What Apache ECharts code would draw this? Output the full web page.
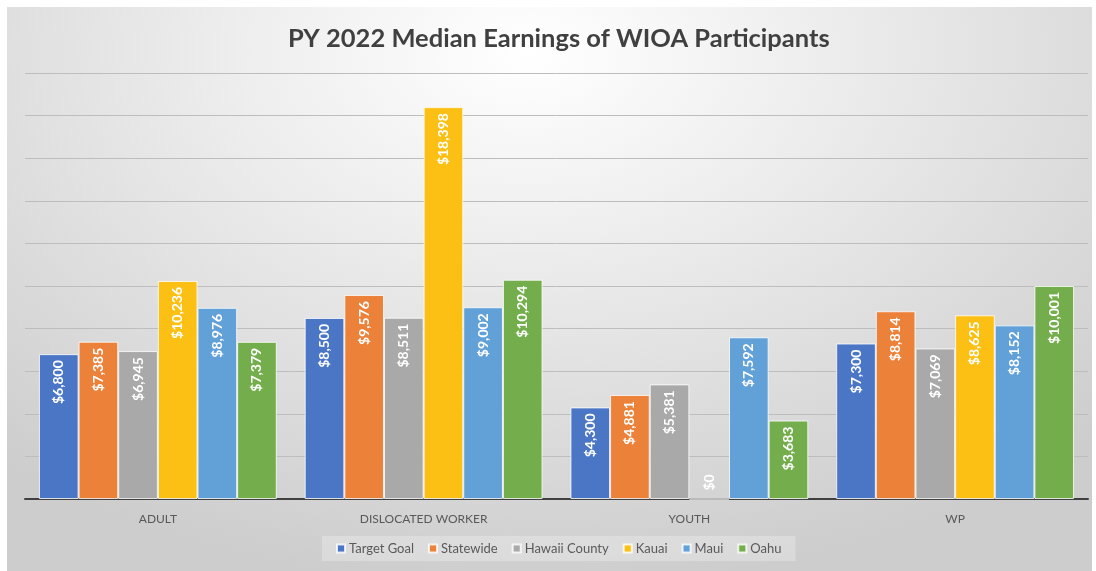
<!DOCTYPE html>
<html>
<head>
<meta charset="utf-8">
<script src="https://cdn.jsdelivr.net/npm/echarts@6/dist/echarts.min.js"></script>
<style>
html,body{margin:0;padding:0;background:#ffffff;}
#bg{position:absolute;left:7px;top:7px;width:1085px;height:564px;
background:radial-gradient(ellipse 75% 95% at 48% 8%, #ffffff 0%, #eeeeee 35%, #dcdcdc 70%, #cdcdcd 100%);}
#chart{position:absolute;left:0;top:0;width:1096px;height:571px;}
</style>
</head>
<body>
<div id="bg"></div>
<div id="chart"></div>
<script>
const categories = ['ADULT', 'DISLOCATED WORKER', 'YOUTH', 'WP'];
const seriesNames = ['Target Goal', 'Statewide', 'Hawaii County', 'Kauai', 'Maui', 'Oahu'];
const targetGoal   = [6800, 8500, 4300, 7300];
const statewide    = [7385, 9576, 4881, 8814];
const hawaiiCounty = [6945, 8511, 5381, 7069];
const kauai        = [10236, 18398, 0, 8625];
const maui         = [8976, 9002, 7592, 8152];
const oahu         = [7379, 10294, 3683, 10001];
const colors = ['#4a76c5', '#ec8139', '#a9a9a9', '#fcc014', '#62a0d8', '#74ae4c'];
const allValues = [targetGoal, statewide, hawaiiCounty, kauai, maui, oahu];

const fmt = v => '$' + Number(v).toLocaleString('en-US');

const chart = echarts.init(document.getElementById('chart'), null, {renderer: 'canvas'});
const series = allValues.map((vals, i) => ({
  name: seriesNames[i],
  type: 'bar',
  barGap: '0%',
  barCategoryGap: '10.5%',
  itemStyle: {color: colors[i], borderColor: 'rgba(255,255,255,0.8)', borderWidth: 1},
  label: {
    show: true,
    position: 'insideTop',
    rotate: 90,
    align: 'right',
    verticalAlign: 'middle',
    distance: 6,
    color: '#ffffff',
    fontFamily: 'Lato',
    fontWeight: 'bold',
    fontSize: 14,
    formatter: p => fmt(p.value)
  },
  data: vals.map(v => v === 0 ? {value: v, label: {position: 'insideBottom', align: 'left', distance: 9}} : v)
}));

chart.setOption({
  backgroundColor: 'transparent',
  animation: false,
  color: colors,
  title: {
    text: 'PY 2022 Median Earnings of WIOA Participants',
    left: 283,
    top: 21,
    textStyle: {fontFamily: 'Lato', fontWeight: 'bold', fontSize: 25.5, color: '#404040'}
  },
  legend: {
    bottom: 10,
    left: 322,
    itemWidth: 8,
    itemHeight: 8,
    itemGap: 14,
    icon: 'rect',
    backgroundColor: 'rgba(255,255,255,0.25)',
    padding: [6, 14],
    textStyle: {fontFamily: 'Lato', fontSize: 13, color: '#595959', padding: [0, 0, 0, -1]},
    data: seriesNames
  },
  grid: {left: 25, right: 8, top: 73, bottom: 72, containLabel: false},
  xAxis: {
    type: 'category',
    data: categories,
    axisLine: {lineStyle: {color: '#404040', width: 2}},
    axisTick: {show: false},
    axisLabel: {color: '#595959', fontFamily: 'Lato', fontSize: 12, margin: 14}
  },
  yAxis: {
    type: 'value',
    min: 0,
    max: 20000,
    interval: 2000,
    axisLabel: {show: false},
    axisLine: {show: false},
    axisTick: {show: false},
    splitLine: {lineStyle: {color: '#bdbdbd', width: 1}}
  },
  series: series
});
</script>
</body>
</html>
